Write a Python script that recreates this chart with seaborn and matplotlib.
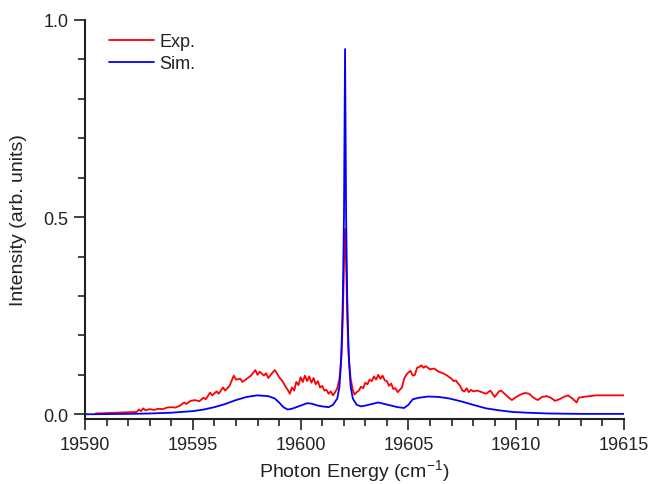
import matplotlib
matplotlib.use("Agg")
import matplotlib.pyplot as plt
import seaborn as sns
import pandas as pd
from matplotlib.ticker import MultipleLocator

# ---- data ----
exp_x = [19590.5, 19591.0, 19591.5, 19592.0, 19592.4, 19592.5, 19592.6, 19592.7, 19592.8, 19593.0,
         19593.2, 19593.4, 19593.6, 19593.8, 19594.0, 19594.2, 19594.4, 19594.6, 19594.7, 19594.9,
         19595.1, 19595.3, 19595.5, 19595.6, 19595.8, 19595.9, 19596.1, 19596.2, 19596.4, 19596.5,
         19596.7, 19596.9, 19597.0, 19597.2, 19597.3, 19597.5, 19597.7, 19597.9, 19598.0, 19598.1,
         19598.3, 19598.4, 19598.5, 19598.7, 19598.8, 19598.9, 19599.0, 19599.1, 19599.2, 19599.3,
         19599.4, 19599.5, 19599.6, 19599.7, 19599.8, 19599.9, 19600.0, 19600.1, 19600.2, 19600.3,
         19600.4, 19600.5, 19600.6, 19600.7, 19600.8, 19600.9, 19601.0, 19601.1, 19601.2, 19601.3,
         19601.4, 19601.5, 19601.6, 19601.7, 19601.8, 19601.9, 19601.96, 19602.01, 19602.06, 19602.11,
         19602.16, 19602.22, 19602.32, 19602.42, 19602.5, 19602.6, 19602.7, 19602.8, 19602.9, 19603.0,
         19603.1, 19603.2, 19603.3, 19603.4, 19603.5, 19603.6, 19603.7, 19603.8, 19603.9, 19604.0,
         19604.1, 19604.2, 19604.3, 19604.4, 19604.5, 19604.6, 19604.7, 19604.8, 19604.9, 19605.0,
         19605.1, 19605.2, 19605.3, 19605.4, 19605.5, 19605.6, 19605.7, 19605.8, 19605.9, 19606.0,
         19606.2, 19606.4, 19606.6, 19606.8, 19607.0, 19607.1, 19607.2, 19607.3, 19607.4, 19607.5,
         19607.6, 19607.7, 19607.8, 19607.9, 19608.0, 19608.2, 19608.4, 19608.6, 19608.8, 19608.9,
         19609.0, 19609.2, 19609.3, 19609.5, 19609.7, 19609.8, 19610.0, 19610.2, 19610.4, 19610.6,
         19610.8, 19611.0, 19611.2, 19611.4, 19611.6, 19611.8, 19612.0, 19612.2, 19612.4, 19612.6,
         19612.8, 19612.9, 19613.1, 19613.4, 19613.7, 19614.0, 19615.0]
exp_y = [0.002, 0.003, 0.004, 0.005, 0.006, 0.012, 0.008, 0.015, 0.010, 0.013,
         0.011, 0.014, 0.013, 0.017, 0.018, 0.017, 0.022, 0.030, 0.026, 0.034,
         0.036, 0.033, 0.042, 0.038, 0.055, 0.048, 0.058, 0.052, 0.068, 0.060,
         0.072, 0.098, 0.088, 0.090, 0.082, 0.090, 0.098, 0.112, 0.100, 0.108,
         0.098, 0.104, 0.092, 0.106, 0.112, 0.104, 0.094, 0.088, 0.080, 0.070,
         0.062, 0.052, 0.068, 0.060, 0.082, 0.074, 0.094, 0.082, 0.098, 0.084,
         0.096, 0.080, 0.092, 0.076, 0.084, 0.068, 0.072, 0.060, 0.062, 0.052,
         0.058, 0.048, 0.056, 0.066, 0.090, 0.150, 0.250, 0.380, 0.470, 0.380,
         0.250, 0.150, 0.090, 0.062, 0.050, 0.056, 0.060, 0.070, 0.066, 0.080,
         0.076, 0.088, 0.084, 0.096, 0.088, 0.100, 0.090, 0.098, 0.086, 0.084,
         0.072, 0.078, 0.064, 0.066, 0.056, 0.062, 0.068, 0.090, 0.100, 0.106,
         0.110, 0.098, 0.100, 0.118, 0.120, 0.124, 0.118, 0.122, 0.118, 0.114,
         0.116, 0.108, 0.104, 0.098, 0.090, 0.084, 0.086, 0.078, 0.072, 0.060,
         0.058, 0.066, 0.056, 0.062, 0.058, 0.060, 0.056, 0.052, 0.060, 0.052,
         0.044, 0.058, 0.060, 0.050, 0.040, 0.036, 0.044, 0.050, 0.054, 0.052,
         0.042, 0.036, 0.044, 0.046, 0.042, 0.034, 0.038, 0.044, 0.048, 0.040,
         0.030, 0.042, 0.044, 0.046, 0.048, 0.048, 0.048]

sim_x = [19590.0, 19592.0, 19593.0, 19594.0, 19595.0, 19595.5, 19596.0, 19596.5, 19597.0, 19597.5,
         19598.0, 19598.5, 19598.8, 19599.0, 19599.2, 19599.4, 19599.6, 19599.8, 19600.0, 19600.3,
         19600.5, 19600.8, 19601.0, 19601.3, 19601.5, 19601.7, 19601.8, 19601.86, 19601.91, 19601.96,
         19602.01, 19602.06, 19602.11, 19602.16, 19602.21, 19602.26, 19602.32, 19602.42, 19602.6, 19602.8,
         19603.0, 19603.3, 19603.6, 19603.9, 19604.2, 19604.5, 19604.8, 19605.0, 19605.2, 19605.5,
         19605.9, 19606.4, 19606.9, 19607.5, 19608.0, 19608.6, 19609.2, 19609.8, 19610.5, 19611.5,
         19613.0, 19615.0]
sim_y = [0.000, 0.001, 0.002, 0.004, 0.008, 0.012, 0.018, 0.026, 0.036, 0.044,
         0.048, 0.046, 0.040, 0.030, 0.018, 0.012, 0.014, 0.018, 0.022, 0.028,
         0.027, 0.022, 0.020, 0.018, 0.024, 0.040, 0.070, 0.120, 0.190, 0.300,
         0.500, 0.926, 0.500, 0.300, 0.190, 0.120, 0.070, 0.040, 0.024, 0.020,
         0.022, 0.026, 0.030, 0.026, 0.022, 0.018, 0.016, 0.024, 0.038, 0.042,
         0.045, 0.044, 0.040, 0.032, 0.024, 0.015, 0.010, 0.006, 0.004, 0.002,
         0.001, 0.001]

x_ticks = [19590, 19595, 19600, 19605, 19610, 19615]
y_ticks = [0.0, 0.5, 1.0]
y_tick_labels = ["0.0", "0.5", "1.0"]
series_names = ["Exp.", "Sim."]

# ---- figure ----
sns.set_theme(style="ticks")
plt.rcParams["font.family"] = ["Liberation Sans", "DejaVu Sans"]
plt.rcParams["mathtext.fontset"] = "custom"
plt.rcParams["mathtext.rm"] = "Liberation Sans"
plt.rcParams["mathtext.default"] = "regular"

fig = plt.figure(figsize=(6.51, 4.85), dpi=100)
ax = fig.add_axes([0.1306, 0.134, 0.828, 0.823])

df_exp = pd.DataFrame({"x": exp_x, "y": exp_y})
df_sim = pd.DataFrame({"x": sim_x, "y": sim_y})
sns.lineplot(data=df_exp, x="x", y="y", ax=ax, color="#ff0000", lw=1.3,
             label=series_names[0], estimator=None, sort=False)
sns.lineplot(data=df_sim, x="x", y="y", ax=ax, color="#0000ff", lw=1.3,
             label=series_names[1], estimator=None, sort=False)

ax.set_xlim(19590, 19615)
ax.set_ylim(-0.012, 1.0)
ax.set_xticks(x_ticks)
ax.set_xticklabels([str(t) for t in x_ticks])
ax.set_yticks(y_ticks)
ax.set_yticklabels(y_tick_labels)
ax.xaxis.set_minor_locator(MultipleLocator(1))
ax.yaxis.set_minor_locator(MultipleLocator(0.1))
ax.tick_params(axis="both", which="major", direction="out", length=8, width=1.2,
               labelsize=13, colors="#222222", labelcolor="#222222", pad=4)
ax.tick_params(axis="both", which="minor", direction="out", length=5, width=1.2,
               colors="#222222")
for s in ["top", "right"]:
    ax.spines[s].set_visible(False)
for s in ["left", "bottom"]:
    ax.spines[s].set_linewidth(1.5)
    ax.spines[s].set_color("#222222")

ax.set_xlabel("Photon Energy (cm$^{\\mathregular{-1}}$)", fontsize=14, color="#222222", labelpad=3)
ax.set_ylabel("Intensity (arb. units)", fontsize=14, color="#222222", labelpad=12)

leg = ax.legend(loc="upper left", bbox_to_anchor=(0.037, 0.975), frameon=False,
                fontsize=13, handlelength=2.5, handletextpad=0.3, labelspacing=0.25,
                borderaxespad=0, borderpad=0.2)
for t in leg.get_texts():
    t.set_color("#222222")

fig.savefig("out.png", dpi=100)
